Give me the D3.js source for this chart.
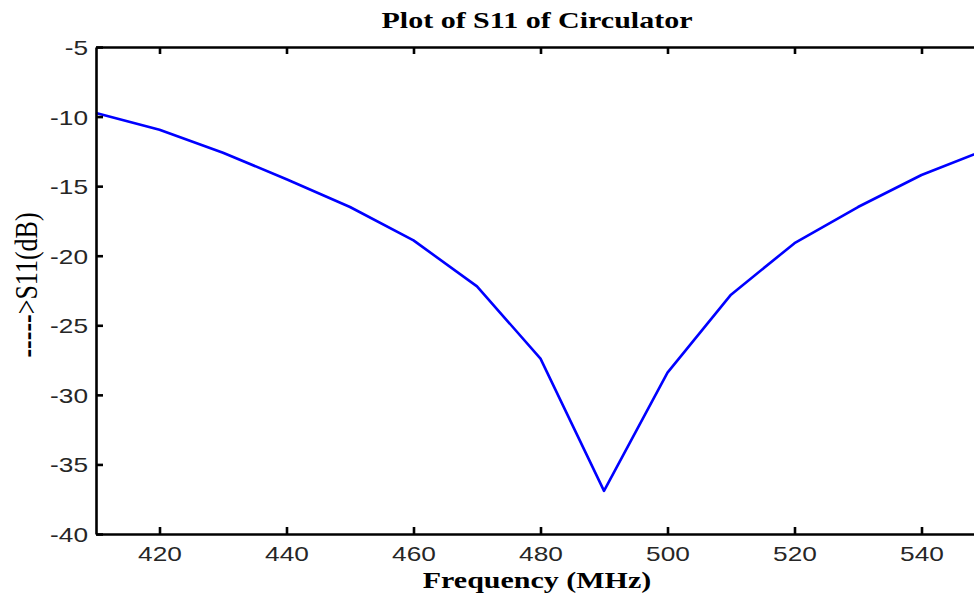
<!DOCTYPE html>
<html>
<head>
<meta charset="utf-8">
<script src="https://cdn.jsdelivr.net/npm/d3@7"></script>
<style>
  body { margin: 0; background: #fff; overflow: hidden; }
  svg { display: block; }
</style>
</head>
<body>
<div id="chart"></div>
<script>
// S11 readings, every 10 MHz
const freqs = [410, 420, 430, 440, 450, 460, 470, 480, 490, 500, 510, 520, 530, 540, 550];
const s11 = [-9.75, -10.95, -12.6, -14.5, -16.5, -18.9, -22.2, -27.4, -36.9, -28.4, -22.8, -19.1, -16.5, -14.2, -12.4];
const xTicks = [420, 440, 460, 480, 500, 520, 540];
const yTicks = [-5, -10, -15, -20, -25, -30, -35, -40];

const W = 974, H = 598;
const margin = { top: 47, right: -11, bottom: 64, left: 96 };
// the original picture is stretched sideways, so glyphs get a wider aspect
const stretch = 1.25;

const svg = d3.select('#chart').append('svg')
  .attr('width', W)
  .attr('height', H);

const x = d3.scaleLinear().domain([410, 550]).range([margin.left, W - margin.right]);
const y = d3.scaleLinear().domain([-40, -5]).range([H - margin.bottom, margin.top]);

const tickFont = "'Liberation Sans', Arial, sans-serif";
const serif = "'Liberation Serif', 'Times New Roman', serif";

// the curve
const line = d3.line().x((d, i) => x(freqs[i])).y(d => y(d));
svg.append('path')
  .datum(s11)
  .attr('d', line)
  .attr('fill', 'none')
  .attr('stroke', '#0000ff')
  .attr('stroke-width', 2.6)
  .attr('stroke-linejoin', 'round');

// axes - ticks point inward like matlab
const fmt = d => String(d); // plain hyphen minus
const xBottom = d3.axisBottom(x).tickValues(xTicks).tickFormat(fmt).tickSizeInner(-7).tickSizeOuter(0).tickPadding(12);
const xTop = d3.axisTop(x).tickValues(xTicks).tickSizeInner(-7).tickSizeOuter(0).tickFormat('');
const yLeft = d3.axisLeft(y).tickValues(yTicks).tickFormat(fmt).tickSizeInner(-7).tickSizeOuter(0).tickPadding(0);

function styleAxis(g) {
  g.select('.domain').attr('stroke', '#000').attr('stroke-width', 2.6);
  g.selectAll('.tick line').attr('stroke', '#000').attr('stroke-width', 2.6);
  g.selectAll('.tick text')
    .attr('fill', '#262626')
    .style('font-family', tickFont)
    .style('font-size', '21px');
}

svg.append('g')
  .attr('transform', `translate(0,${y(-40)})`)
  .call(xBottom)
  .call(styleAxis)
  .selectAll('.tick text')
  .attr('transform', `scale(${stretch},1)`);

svg.append('g')
  .attr('transform', `translate(0,${y(-5)})`)
  .call(xTop)
  .call(styleAxis);

svg.append('g')
  .attr('transform', `translate(${x(410)},0)`)
  .call(yLeft)
  .call(styleAxis)
  .selectAll('.tick text')
  .attr('x', 0)
  .attr('dy', '0.36em')
  .attr('transform', `translate(-8,0) scale(${stretch},1)`);

// title
svg.append('text')
  .attr('transform', `translate(537,28) scale(${stretch},1)`)
  .attr('text-anchor', 'middle')
  .style('font-family', serif)
  .style('font-weight', 'bold')
  .style('font-size', '24px')
  .text('Plot of S11  of Circulator');

// x label
svg.append('text')
  .attr('transform', `translate(537,588) scale(${stretch},1)`)
  .attr('text-anchor', 'middle')
  .style('font-family', serif)
  .style('font-weight', 'bold')
  .style('font-size', '24px')
  .text('Frequency (MHz)');

// y label
const yl = svg.append('text')
  .attr('transform', `translate(37,285) scale(${stretch},1) rotate(-90)`)
  .attr('text-anchor', 'middle')
  .style('font-family', serif)
  .style('font-size', '26px');
yl.append('tspan').style('font-weight', 'bold').text('-----');
yl.append('tspan').text('>S11(dB)');
</script>
</body>
</html>
